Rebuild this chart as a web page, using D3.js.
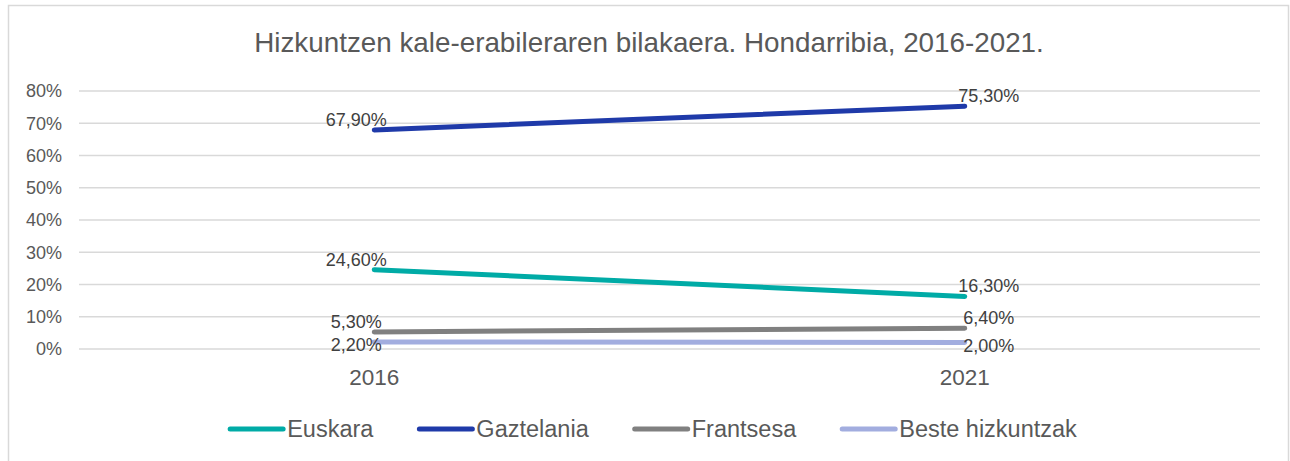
<!DOCTYPE html>
<html>
<head>
<meta charset="utf-8">
<script src="https://cdn.jsdelivr.net/npm/d3@7"></script>
<style>
  body { margin: 0; background: #fff; }
  text { font-family: "Liberation Sans", Arial, sans-serif; }
</style>
</head>
<body>
<div id="drawArea"></div>
<script>
// Data
var years = ['2016', '2021'];
var seriesNames = ['Euskara', 'Gaztelania', 'Frantsesa', 'Beste hizkuntzak'];
var euskara = [0.246, 0.163];
var gaztelania = [0.679, 0.753];
var frantsesa = [0.053, 0.064];
var beste = [0.022, 0.020];
var yTicks = [0, 0.1, 0.2, 0.3, 0.4, 0.5, 0.6, 0.7, 0.8];

var seriesColor = ['#00aba6', '#1f3aa9', '#808080', '#a2addf'];
// labels of the lowest series go under the line
var labelBelow = [false, false, false, true];

var series = [euskara, gaztelania, frantsesa, beste].map(function (v, i) {
    return { name: seriesNames[i], values: v, color: seriesColor[i], below: labelBelow[i] };
});

var width = 1290, height = 461;
var txtColor = '#595959';

var svg = d3.select('#drawArea')
    .append('svg')
    .attr('width', width)
    .attr('height', height);

// outer chart border
svg.append('rect')
    .attr('x', 8.5)
    .attr('y', 5.5)
    .attr('width', 1280)
    .attr('height', 470)
    .attr('fill', '#fff')
    .attr('stroke', '#d9d9d9')
    .attr('stroke-width', 1.5);

// Title
svg.append('text')
    .attr('x', 649)
    .attr('y', 52)
    .attr('text-anchor', 'middle')
    .attr('font-size', 27.8)
    .attr('fill', txtColor)
    .text('Hizkuntzen kale-erabileraren bilakaera. Hondarribia, 2016-2021.');

var x = d3.scaleBand()
    .domain(years)
    .range([79, 1260]);

var y = d3.scaleLinear()
    .domain([0, 0.8])
    .range([349, 91]);

// gridlines
svg.append('g')
    .selectAll('line')
    .data(yTicks)
    .enter()
    .append('line')
    .attr('x1', 79)
    .attr('x2', 1260)
    .attr('y1', function (d) { return y(d); })
    .attr('y2', function (d) { return y(d); })
    .attr('stroke', '#d9d9d9')
    .attr('stroke-width', 1.3);

// y axis labels
var yAxis = d3.axisLeft(y)
    .tickValues(yTicks)
    .tickSize(0)
    .tickPadding(17)
    .tickFormat(d3.format('.0%'));

var yg = svg.append('g')
    .attr('transform', 'translate(79,0)')
    .call(yAxis);
yg.select('.domain').remove();
yg.selectAll('text')
    .attr('font-size', 18)
    .attr('font-family', '"Liberation Sans", Arial, sans-serif')
    .attr('fill', txtColor);

// x axis labels
var xAxis = d3.axisBottom(x)
    .tickSize(0)
    .tickPadding(20);

var xg = svg.append('g')
    .attr('transform', 'translate(0,349)')
    .call(xAxis);
xg.select('.domain').remove();
xg.selectAll('text')
    .attr('font-size', 22.5)
    .attr('font-family', '"Liberation Sans", Arial, sans-serif')
    .attr('fill', txtColor);

var cx = function (i) { return x(years[i]) + x.bandwidth() / 2; };

var line = d3.line()
    .x(function (d, i) { return cx(i); })
    .y(function (d) { return y(d); });

// lines
svg.append('g')
    .selectAll('path')
    .data(series)
    .enter()
    .append('path')
    .attr('d', function (d) { return line(d.values); })
    .attr('fill', 'none')
    .attr('stroke', function (d) { return d.color; })
    .attr('stroke-width', 5)
    .attr('stroke-linecap', 'round');

// data labels
var fmtPct = function (v) {
    return d3.format('.2f')(v * 100).replace('.', ',') + '%';
};

series.forEach(function (s) {
    svg.append('g')
        .selectAll('text')
        .data(s.values)
        .enter()
        .append('text')
        .attr('x', function (d, i) { return cx(i) + (i == 0 ? -18 : 24); })
        .attr('y', function (d) { return y(d) + (s.below ? 9 : -4); })
        .attr('text-anchor', 'middle')
        .attr('font-size', 18)
        .attr('fill', '#404040')
        .text(fmtPct);
});

// Legend
var legend = svg.append('g');
var lx = 0;
var gap = 43;
series.forEach(function (s, i) {
    var item = legend.append('g').attr('transform', 'translate(' + lx + ',0)');
    item.append('line')
        .attr('x1', 3)
        .attr('x2', 56)
        .attr('y1', 0)
        .attr('y2', 0)
        .attr('stroke', s.color)
        .attr('stroke-width', 5)
        .attr('stroke-linecap', 'round');
    var t = item.append('text')
        .attr('x', 60)
        .attr('y', 8)
        .attr('font-size', 23.5)
        .attr('fill', txtColor)
        .text(s.name);
    lx += 60 + t.node().getComputedTextLength() + gap;
});
lx -= gap;
legend.attr('transform', 'translate(' + (652 - lx / 2) + ',429)');
</script>
</body>
</html>
